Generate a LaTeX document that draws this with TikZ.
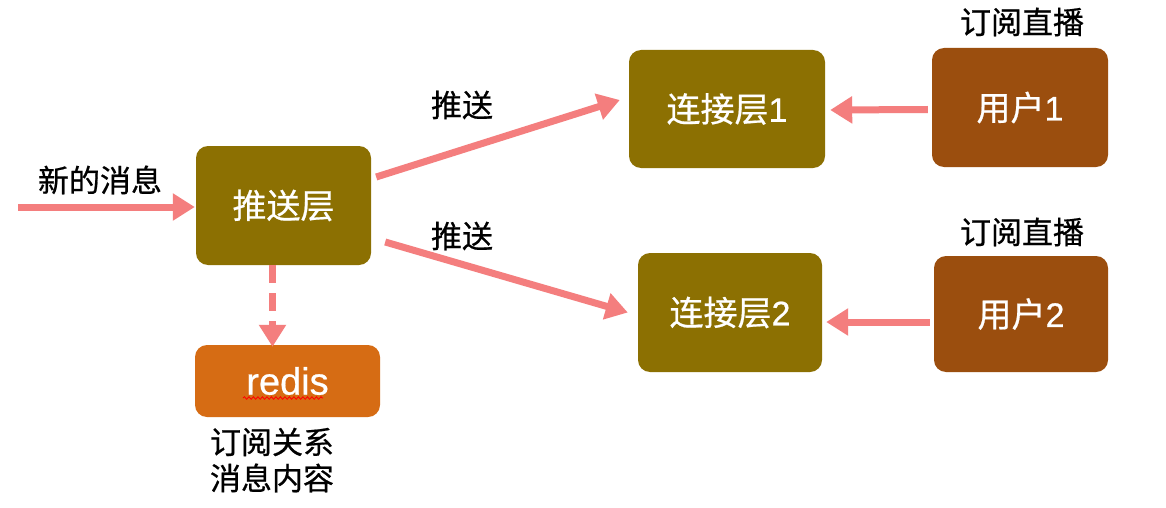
\documentclass[tikz,border=0pt]{standalone}
\usepackage{fontspec}
\setmainfont{Noto Sans CJK SC}[FakeBold=0.6]
\newfontfamily\lat{Liberation Sans}[FakeBold=0.6]
\usetikzlibrary{arrows.meta,decorations.pathmorphing}
\definecolor{olivebox}{RGB}{140,112,2}
\definecolor{userbox}{RGB}{155,78,14}
\definecolor{redisbox}{RGB}{214,108,20}
\definecolor{arrowc}{RGB}{244,126,126}
\tikzset{
  box/.style={rounded corners=12pt, inner sep=0pt, text=white,
    font=\fontsize{34}{38}\selectfont},
  lbl/.style={inner sep=0pt, text=black, font=\fontsize{31}{34}\selectfont},
  conn/.style={draw=arrowc, line width=7pt,
    -{Triangle[length=22pt,width=26pt]}},
  dconn/.style={conn, dash pattern=on 18pt off 10pt},
}
\begin{document}
\begin{tikzpicture}[x=1pt,y=-1pt]
\useasboundingbox[fill=white] (0,0) rectangle (1166,508);
\node[box, fill=olivebox, minimum width=175pt, minimum height=119pt] (push) at (283.5,205.5) {推送层};
\node[box, fill=redisbox, minimum width=185pt, minimum height=72pt, font=\fontsize{38}{40}\selectfont] (redis) at (287.5,381) {\lat redis};
\node[box, fill=olivebox, minimum width=196pt, minimum height=118pt] (conn1) at (727,109) {连接层{\lat 1}};
\node[box, fill=userbox, minimum width=176pt, minimum height=119pt] (user1) at (1020,107.5) {用户{\lat 1}};
\node[box, fill=olivebox, minimum width=184pt, minimum height=119pt] (conn2) at (730,312.5) {连接层{\lat 2}};
\node[box, fill=userbox, minimum width=174pt, minimum height=116pt] (user2) at (1021,314) {用户{\lat 2}};

\node[lbl] (newmsg) at (100,180) {新的消息};
\node[lbl] (push1) at (462,105) {推送};
\node[lbl] (push2) at (462,236) {推送};
\node[lbl] (sub1) at (1022,22) {订阅直播};
\node[lbl] (sub2) at (1022,232) {订阅直播};
\node[lbl] (rel) at (272,442) {订阅关系};
\node[lbl] (cont) at (272,478) {消息内容};

\coordinate (src) at (18,207);
\coordinate (wl) at (243,398);
\coordinate (wr) at (323,398);

\draw[conn] (src) -- ([xshift=-1pt,yshift=-1.5pt]push.west);
\draw[conn] ([xshift=5pt,yshift=28.5pt]push.east) -- ([xshift=-9pt,yshift=9pt]conn1.west);
\draw[conn] ([xshift=14pt,yshift=-36.5pt]push.east) -- ([xshift=-10pt,yshift=0pt]conn2.west);
\draw[conn] ([xshift=-4pt,yshift=-2pt]user1.west) -- ([xshift=5pt,yshift=-1pt]conn1.east);
\draw[conn] ([xshift=-4pt,yshift=-8pt]user2.west) -- ([xshift=4pt,yshift=-9.5pt]conn2.east);
\draw[dconn] ([xshift=-11pt]push.south) -- ([xshift=-15pt,yshift=-2pt]redis.north);
\draw[red, line width=0.8pt, decorate, decoration={snake, amplitude=1.3pt, segment length=4.5pt}] (wl) -- (wr);
\end{tikzpicture}
\end{document}
